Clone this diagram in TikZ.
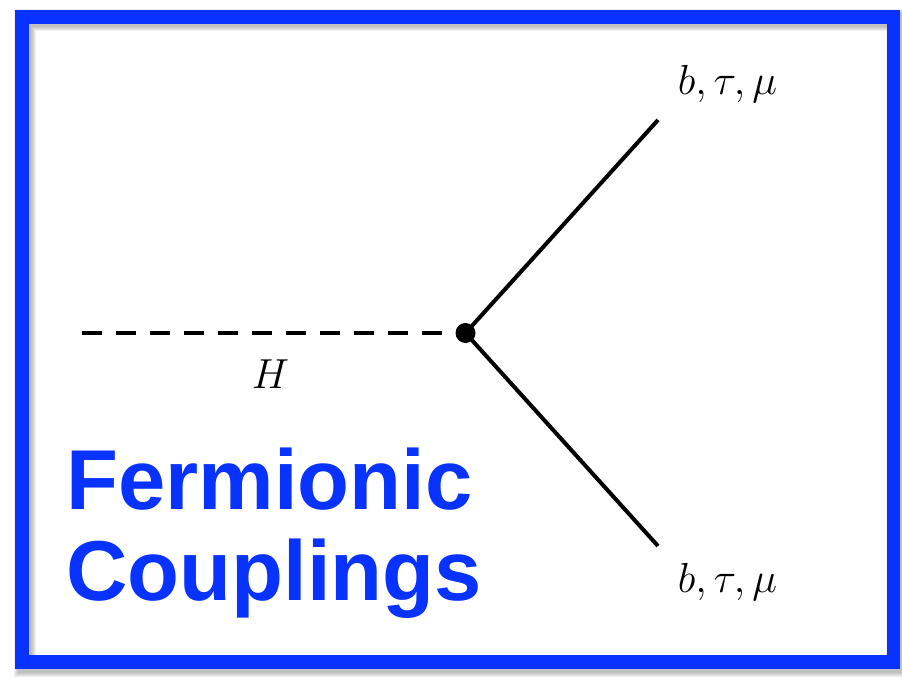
\RequirePackage{fix-cm}
\documentclass[tikz,border=0pt]{standalone}
\usepackage{fontspec}
\newfontfamily\titlefont{Liberation Sans}
\usetikzlibrary{positioning}
\definecolor{frameblue}{RGB}{8,50,255}
\definecolor{shadowgray}{RGB}{90,90,90}

\begin{document}
\begin{tikzpicture}[
    x=1pt,y=-1pt,
    frame/.style={draw=frameblue,line width=13.5pt},
    fshadow/.style={draw=shadowgray,opacity=0.09},
    higgs/.style={line width=4pt,dash pattern=on 20pt off 14pt},
    fermion/.style={line width=4pt},
    vtx/.style={circle,fill=black,inner sep=0pt,minimum size=20pt},
    lab/.style={font=\fontsize{42}{50}\selectfont,inner sep=0pt,anchor=base},
    title/.style={font=\fontsize{85}{91}\selectfont\titlefont\bfseries,
      text=frameblue,align=left,inner sep=0pt,anchor=base west}
  ]
    \useasboundingbox (0,0) rectangle (902,677);
    % frame with soft shadow
    \foreach \w in {14,16,18,20,22}
      \draw[fshadow,line width=\w pt] (25,20.5) rectangle (896.5,665.5);
    \draw[frame] (22,17) rectangle (893.5,662);
    % vertex
    \node[vtx] (vertex) at (465.5,333) {};
    \coordinate (hin) at (82,333);
    \coordinate (fup) at (658,120);
    \coordinate (fdown) at (658,546);
    \draw[higgs] (hin) -- (vertex.center);
    \draw[fermion] (vertex.center) -- (fup);
    \draw[fermion] (vertex.center) -- (fdown);
    % labels
    \node[lab] (hlab) at (270.5,388) {$H$};
    \node[lab] (uplab) at (727.5,95) {$b,\tau,\mu$};
    \node[lab] (downlab) at (727.5,592) {$b,\tau,\mu$};
    \node[title] (title) at (66,600) {Fermionic\\Couplings};
  \end{tikzpicture}
\end{document}
